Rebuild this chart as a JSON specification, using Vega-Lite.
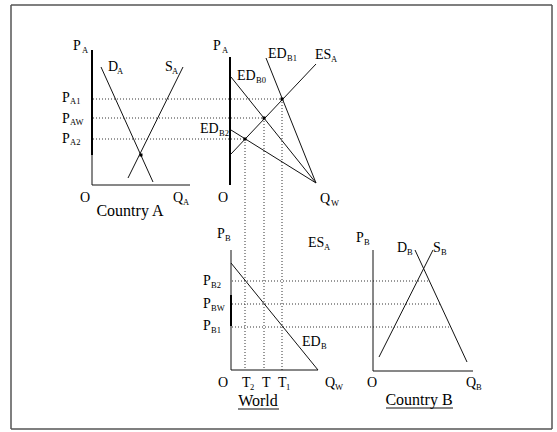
{
  "$schema": "https://vega.github.io/schema/vega-lite/v6.json",
  "width": 557,
  "height": 432,
  "autosize": {"type": "fit", "contains": "padding"},
  "padding": 0,
  "background": "white",
  "config": {"view": {"stroke": null}},
  "datasets": {
    "solid": [
      {"id": "A_axis_low", "x": 92, "y": 155, "x2": 92, "y2": 185},
      {"id": "A_haxis", "x": 92, "y": 185, "x2": 190, "y2": 185},
      {"id": "D_A", "x": 101, "y": 67, "x2": 153, "y2": 182},
      {"id": "S_A", "x": 183, "y": 67, "x2": 128, "y2": 178},
      {"id": "ED_B0", "x": 231, "y": 77, "x2": 316, "y2": 183},
      {"id": "ED_B1", "x": 266, "y": 58, "x2": 316, "y2": 183},
      {"id": "ED_B2", "x": 231, "y": 130, "x2": 316, "y2": 183},
      {"id": "ES_A", "x": 231, "y": 154, "x2": 316, "y2": 64},
      {"id": "W_vaxis", "x": 231, "y": 250, "x2": 231, "y2": 370},
      {"id": "W_haxis", "x": 231, "y": 370, "x2": 318, "y2": 370},
      {"id": "ED_B", "x": 231, "y": 263, "x2": 318, "y2": 370},
      {"id": "B_vaxis", "x": 373, "y": 250, "x2": 373, "y2": 371},
      {"id": "B_haxis", "x": 373, "y": 371, "x2": 473, "y2": 371},
      {"id": "D_B", "x": 415, "y": 250, "x2": 467, "y2": 362},
      {"id": "S_B", "x": 433, "y": 250, "x2": 379, "y2": 357}
    ],
    "thick": [
      {"id": "A_axis", "x": 92, "y": 50, "x2": 92, "y2": 155},
      {"id": "M_axis", "x": 230, "y": 57, "x2": 230, "y2": 185},
      {"id": "W_axis_part", "x": 231, "y": 295, "x2": 231, "y2": 326}
    ],
    "dotted": [
      {"id": "PA1", "x": 93, "y": 99, "x2": 282, "y2": 99},
      {"id": "PAW", "x": 93, "y": 118, "x2": 264, "y2": 118},
      {"id": "PA2", "x": 93, "y": 139, "x2": 245, "y2": 139},
      {"id": "T2", "x": 245, "y": 139, "x2": 245, "y2": 370},
      {"id": "T", "x": 264, "y": 118, "x2": 264, "y2": 370},
      {"id": "T1", "x": 282, "y": 99, "x2": 282, "y2": 370},
      {"id": "PB2", "x": 232, "y": 281, "x2": 430, "y2": 281},
      {"id": "PBW", "x": 232, "y": 304, "x2": 440, "y2": 304},
      {"id": "PB1", "x": 232, "y": 327, "x2": 451, "y2": 327}
    ],
    "frame": [
      {"id": "top", "x": 11, "y": 5, "x2": 552, "y2": 5},
      {"id": "left", "x": 11, "y": 5, "x2": 11, "y2": 429},
      {"id": "bottom", "x": 11, "y": 429, "x2": 552, "y2": 429},
      {"id": "right", "x": 552, "y": 5, "x2": 552, "y2": 429}
    ],
    "underline": [
      {"id": "World", "x": 238, "y": 409, "x2": 279, "y2": 409},
      {"id": "CountryB", "x": 386, "y": 408, "x2": 453, "y2": 408}
    ],
    "dots": [
      {"x": 282, "y": 99},
      {"x": 264, "y": 118},
      {"x": 245, "y": 139},
      {"x": 141, "y": 155}
    ],
    "labels": [
      {"x": 73, "y": 50, "t": "P", "role": "main"},
      {"x": 82, "y": 53, "t": "A", "role": "sub"},
      {"x": 108, "y": 71, "t": "D", "role": "main"},
      {"x": 117, "y": 74, "t": "A", "role": "sub"},
      {"x": 165, "y": 71, "t": "S", "role": "main"},
      {"x": 172, "y": 74, "t": "A", "role": "sub"},
      {"x": 62, "y": 102, "t": "P", "role": "main"},
      {"x": 70, "y": 104, "t": "A1", "role": "sub"},
      {"x": 62, "y": 123, "t": "P", "role": "main"},
      {"x": 70, "y": 125, "t": "AW", "role": "sub"},
      {"x": 62, "y": 143, "t": "P", "role": "main"},
      {"x": 70, "y": 145, "t": "A2", "role": "sub"},
      {"x": 80, "y": 202, "t": "O", "role": "main"},
      {"x": 173, "y": 202, "t": "Q", "role": "main"},
      {"x": 183, "y": 205, "t": "A", "role": "sub"},
      {"x": 213, "y": 50, "t": "P", "role": "main"},
      {"x": 222, "y": 53, "t": "A", "role": "sub"},
      {"x": 237, "y": 80, "t": "ED", "role": "main"},
      {"x": 256, "y": 83, "t": "B0", "role": "sub"},
      {"x": 268, "y": 58, "t": "ED", "role": "main"},
      {"x": 287, "y": 61, "t": "B1", "role": "sub"},
      {"x": 315, "y": 59, "t": "ES", "role": "main"},
      {"x": 331, "y": 62, "t": "A", "role": "sub"},
      {"x": 200, "y": 133, "t": "ED", "role": "main"},
      {"x": 219, "y": 136, "t": "B2", "role": "sub"},
      {"x": 218, "y": 202, "t": "O", "role": "main"},
      {"x": 320, "y": 203, "t": "Q", "role": "main"},
      {"x": 331, "y": 206, "t": "W", "role": "sub"},
      {"x": 217, "y": 238, "t": "P", "role": "main"},
      {"x": 225, "y": 241, "t": "B", "role": "sub"},
      {"x": 308, "y": 247, "t": "ES", "role": "main"},
      {"x": 324, "y": 250, "t": "A", "role": "sub"},
      {"x": 203, "y": 285, "t": "P", "role": "main"},
      {"x": 211, "y": 288, "t": "B2", "role": "sub"},
      {"x": 203, "y": 308, "t": "P", "role": "main"},
      {"x": 211, "y": 311, "t": "BW", "role": "sub"},
      {"x": 203, "y": 330, "t": "P", "role": "main"},
      {"x": 211, "y": 333, "t": "B1", "role": "sub"},
      {"x": 302, "y": 346, "t": "ED", "role": "main"},
      {"x": 321, "y": 349, "t": "B", "role": "sub"},
      {"x": 218, "y": 387, "t": "O", "role": "main"},
      {"x": 242, "y": 387, "t": "T", "role": "main"},
      {"x": 250, "y": 390, "t": "2", "role": "sub"},
      {"x": 262, "y": 387, "t": "T", "role": "main"},
      {"x": 278, "y": 387, "t": "T", "role": "main"},
      {"x": 286, "y": 390, "t": "1", "role": "sub"},
      {"x": 325, "y": 387, "t": "Q", "role": "main"},
      {"x": 335, "y": 390, "t": "W", "role": "sub"},
      {"x": 356, "y": 242, "t": "P", "role": "main"},
      {"x": 364, "y": 245, "t": "B", "role": "sub"},
      {"x": 397, "y": 252, "t": "D", "role": "main"},
      {"x": 407, "y": 255, "t": "B", "role": "sub"},
      {"x": 433, "y": 252, "t": "S", "role": "main"},
      {"x": 441, "y": 255, "t": "B", "role": "sub"},
      {"x": 367, "y": 387, "t": "O", "role": "main"},
      {"x": 466, "y": 387, "t": "Q", "role": "main"},
      {"x": 476, "y": 390, "t": "B", "role": "sub"}
    ],
    "titles": [
      {"x": 130, "y": 216, "t": "Country A"},
      {"x": 258, "y": 406, "t": "World"},
      {"x": 419, "y": 405, "t": "Country B"}
    ]
  },
  "encoding": {
    "x": {"field": "x", "type": "quantitative", "scale": {"domain": [0, 557], "nice": false, "zero": false}, "axis": null},
    "y": {"field": "y", "type": "quantitative", "scale": {"domain": [0, 432], "nice": false, "zero": false, "reverse": true}, "axis": null}
  },
  "layer": [
    {
      "data": {"name": "frame"},
      "mark": {"type": "rule", "color": "#555555", "strokeWidth": 1.5},
      "encoding": {"x2": {"field": "x2"}, "y2": {"field": "y2"}}
    },
    {
      "data": {"name": "dotted"},
      "mark": {"type": "rule", "color": "#333333", "strokeWidth": 1, "strokeDash": [1, 2]},
      "encoding": {"x2": {"field": "x2"}, "y2": {"field": "y2"}}
    },
    {
      "data": {"name": "solid"},
      "mark": {"type": "rule", "color": "#111111", "strokeWidth": 1},
      "encoding": {"x2": {"field": "x2"}, "y2": {"field": "y2"}}
    },
    {
      "data": {"name": "thick"},
      "mark": {"type": "rule", "color": "#000000", "strokeWidth": 2},
      "encoding": {"x2": {"field": "x2"}, "y2": {"field": "y2"}}
    },
    {
      "data": {"name": "underline"},
      "mark": {"type": "rule", "color": "#111111", "strokeWidth": 1},
      "encoding": {"x2": {"field": "x2"}, "y2": {"field": "y2"}}
    },
    {
      "data": {"name": "dots"},
      "mark": {"type": "square", "size": 9, "color": "black", "opacity": 1}
    },
    {
      "data": {"name": "labels"},
      "transform": [{"filter": "datum.role === 'main'"}],
      "mark": {"type": "text", "font": "Liberation Serif", "fontSize": 14, "align": "left", "baseline": "alphabetic", "color": "black"},
      "encoding": {"text": {"field": "t"}}
    },
    {
      "data": {"name": "labels"},
      "transform": [{"filter": "datum.role === 'sub'"}],
      "mark": {"type": "text", "font": "Liberation Serif", "fontSize": 8.5, "align": "left", "baseline": "alphabetic", "color": "black"},
      "encoding": {"text": {"field": "t"}}
    },
    {
      "data": {"name": "titles"},
      "mark": {"type": "text", "font": "Liberation Serif", "fontSize": 16, "align": "center", "baseline": "alphabetic", "color": "black"},
      "encoding": {"text": {"field": "t"}}
    }
  ]
}
